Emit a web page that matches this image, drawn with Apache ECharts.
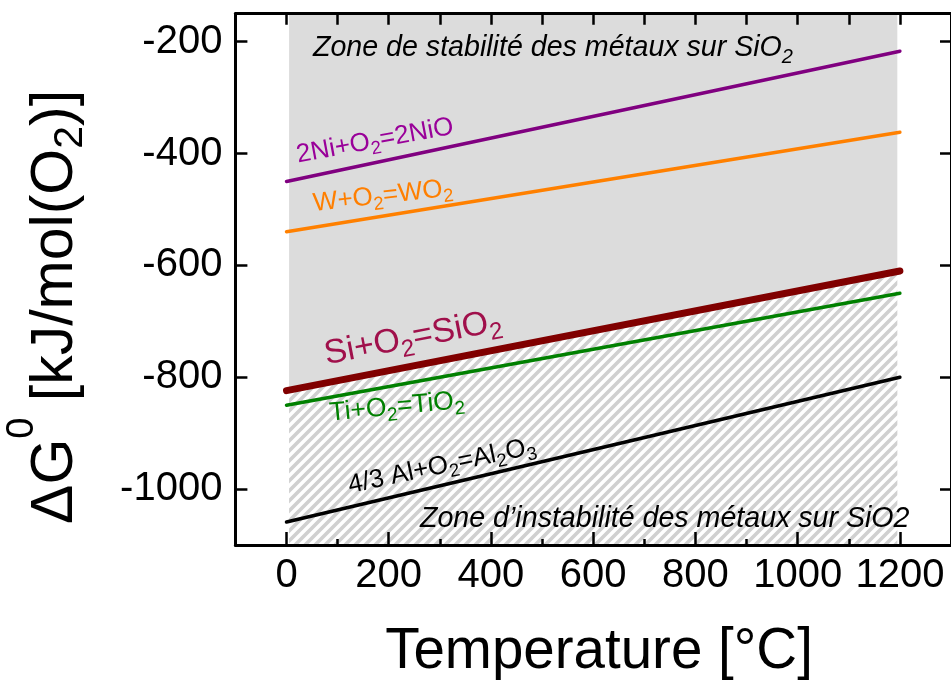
<!DOCTYPE html>
<html>
<head>
<meta charset="utf-8">
<script src="https://cdn.jsdelivr.net/npm/echarts@6/dist/echarts.min.js"></script>
<style>
html,body{margin:0;padding:0;background:#fff;}
#chart{width:951px;height:682px;}
</style>
</head>
<body>
<div id="chart"></div>
<script>
// ---- data ----
const temps = [0, 1200];
const niValues = [-450, -217];
const wValues = [-540, -362];
const siValues = [-824, -610];
const tiValues = [-850, -650];
const alValues = [-1059, -800];
const xMajorTicks = [0, 200, 400, 600, 800, 1000, 1200];
const xMinorTicks = [100, 300, 500, 700, 900, 1100];
const yTicks = [-1000, -800, -600, -400, -200];
const zoneRange = [5, 1195];

const FONT = "'Liberation Sans', Arial, Helvetica, sans-serif";
const chart = echarts.init(document.getElementById('chart'), null, {renderer: 'canvas'});

// hatch pattern
const pat = document.createElement('canvas');
pat.width = 10; pat.height = 10;
(function () {
  const c = pat.getContext('2d');
  c.fillStyle = '#ffffff'; c.fillRect(0, 0, 10, 10);
  c.strokeStyle = '#d0d0d0'; c.lineWidth = 3.6;
  c.beginPath();
  c.moveTo(-5, 5); c.lineTo(5, -5);
  c.moveTo(0, 10); c.lineTo(10, 0);
  c.moveTo(5, 15); c.lineTo(15, 5);
  c.stroke();
})();

function pairs(vals) { return temps.map((t, i) => [t, vals[i]]); }

function siAt(x) {
  const x0 = temps[0], x1 = temps[temps.length - 1];
  const y0 = siValues[0], y1 = siValues[siValues.length - 1];
  return y0 + (y1 - y0) * (x - x0) / (x1 - x0);
}

function lineSeries(name, vals, color, width) {
  return {
    name: name, type: 'line', data: pairs(vals), showSymbol: false, symbol: 'none',
    lineStyle: {color: color, width: width, cap: 'round'}, z: 5, silent: true
  };
}

const Y_MIN = -1100, Y_MAX = -150;

// rich-text helper: main font F (centred in line), subscript font Fb lowered by d
function richEq(F, Fb, color, italic) {
  const L = Math.round(F * 1.6);
  const d = 0.2 * F;
  const Hb = 2 * (L / 2 + 0.3465 * (F - Fb) + d);
  const st = italic ? 'italic' : 'normal';
  return {
    t: {fontSize: F, lineHeight: L, verticalAlign: 'middle', fill: color, fontFamily: FONT, fontStyle: st},
    s: {fontSize: Fb, lineHeight: L, height: Hb, verticalAlign: 'top', fill: color, fontFamily: FONT, fontStyle: st}
  };
}

function label(text, x, y, deg, F, Fb, color, align, italic) {
  return {
    type: 'text', x: x, y: y, rotation: deg * Math.PI / 180, z: 20, silent: true,
    style: {
      text: text, rich: richEq(F, Fb, color, italic), fill: color,
      fontSize: F, fontFamily: FONT, align: align || 'center', verticalAlign: 'middle'
    }
  };
}

const plainNum = function (v) { return String(v); };
const axisLineStyle = {show: true, onZero: false, lineStyle: {color: '#000', width: 3}};

// y-title rich layout
const YT = {F: 59, Fp: 38, Fb: 41, L: 124};
const ytHp = 2 * (YT.L / 2 - 0.3695 * YT.F - 0.3465 * YT.Fp + 1);
const ytHb = 2 * (YT.L / 2 + 0.3465 * (YT.F - YT.Fb) + 8);

const option = {
  animation: false,
  backgroundColor: '#ffffff',
  grid: {left: 235.4, top: 13.7, width: 717.6, height: 531.3, containLabel: false},
  xAxis: [
    {
      type: 'value', min: -100, max: 1300, position: 'bottom', z: 10,
      axisLine: axisLineStyle,
      axisTick: {show: true, inside: true, length: 13, lineStyle: {color: '#000', width: 2.5}, customValues: xMajorTicks},
      axisLabel: {show: true, customValues: xMajorTicks, formatter: plainNum, fontSize: 40, color: '#000', fontFamily: FONT, margin: 11},
      splitLine: {show: false}
    },
    {
      type: 'value', min: -100, max: 1300, position: 'bottom', z: 10,
      axisLine: {show: false, onZero: false},
      axisTick: {show: true, inside: true, length: 6, lineStyle: {color: '#000', width: 2.5}, customValues: xMinorTicks},
      axisLabel: {show: false},
      splitLine: {show: false}
    },
    {
      type: 'value', min: -100, max: 1300, interval: 100, position: 'top', z: 10,
      axisLine: axisLineStyle,
      axisTick: {show: true, inside: true, length: 11, lineStyle: {color: '#000', width: 2.5}},
      axisLabel: {show: false},
      splitLine: {show: false}
    }
  ],
  yAxis: [
    {
      type: 'value', min: Y_MIN, max: Y_MAX, position: 'left', z: 10,
      axisLine: axisLineStyle,
      axisTick: {show: true, inside: true, length: 12, lineStyle: {color: '#000', width: 2.5}, customValues: yTicks},
      axisLabel: {show: true, customValues: yTicks, formatter: plainNum, fontSize: 40, color: '#000', fontFamily: FONT, margin: 13},
      splitLine: {show: false}
    },
    {
      type: 'value', min: Y_MIN, max: Y_MAX, position: 'right', z: 10,
      axisLine: axisLineStyle,
      axisTick: {show: true, inside: true, length: 11, lineStyle: {color: '#000', width: 2.5}, customValues: yTicks},
      axisLabel: {show: false},
      splitLine: {show: false}
    }
  ],
  series: [
    {
      type: 'custom', name: 'zones', z: 1, silent: true, clip: false,
      data: [[zoneRange[0], zoneRange[1]]],
      renderItem: function (params, api) {
        const xs = api.value(0), xe = api.value(1);
        const grey = [api.coord([xs, Y_MAX]), api.coord([xe, Y_MAX]), api.coord([xe, siAt(xe)]), api.coord([xs, siAt(xs)])];
        const hatch = [api.coord([xs, siAt(xs)]), api.coord([xe, siAt(xe)]), api.coord([xe, Y_MIN]), api.coord([xs, Y_MIN])];
        return {
          type: 'group',
          children: [
            {type: 'polygon', shape: {points: grey}, style: {fill: '#dcdcdc'}},
            {type: 'polygon', shape: {points: hatch}, style: {fill: {image: pat, repeat: 'repeat'}}}
          ]
        };
      }
    },
    lineSeries('2Ni+O2=2NiO', niValues, '#800080', 3.5),
    lineSeries('W+O2=WO2', wValues, '#ff8000', 3.5),
    lineSeries('Si+O2=SiO2', siValues, '#800000', 7),
    lineSeries('Ti+O2=TiO2', tiValues, '#008000', 3.5),
    lineSeries('4/3 Al+O2=Al2O3', alValues, '#000000', 3.5)
  ],
  graphic: [
    label('{t|Zone de stabilité des métaux sur SiO}{s|2}', 313, 48.5, 0, 28.6, 20, '#000', 'left', true),
    label('{t|Zone d\u2019instabilité des métaux sur SiO2}', 420, 519, 0, 28.6, 20, '#000', 'left', true),
    label('{t|2Ni+O}{s|2}{t|=2NiO}', 375, 141, 10.5, 26, 18.5, '#990099'),
    label('{t|W+O}{s|2}{t|=WO}{s|2}', 383, 196, 6.5, 26, 18.5, '#ff7f00'),
    label('{t|Si+O}{s|2}{t|=SiO}{s|2}', 413, 338, 11, 34, 24, '#a0104b'),
    label('{t|Ti+O}{s|2}{t|=TiO}{s|2}', 397, 407, 5.5, 26.5, 19, '#008000'),
    label('{t|4/3 Al+O}{s|2}{t|=Al}{s|2}{t|O}{s|3}', 442, 466, 12, 26, 18.5, '#000'),
    {
      type: 'text', x: 599, y: 652, z: 20, silent: true,
      style: {text: 'Temperature [°C]', fontSize: 56.5, fontFamily: FONT, fill: '#000', align: 'center', verticalAlign: 'middle'}
    },
    {
      type: 'text', x: 56, y: 307, rotation: Math.PI / 2, z: 20, silent: true,
      style: {
        text: '{t|\u0394G}{p|0}{t| [kJ/mol(O}{b|2}{t|)]}',
        align: 'center', verticalAlign: 'middle', fill: '#000', fontSize: YT.F, fontFamily: FONT,
        rich: {
          t: {fontSize: YT.F, lineHeight: YT.L, verticalAlign: 'middle', fill: '#000', fontFamily: FONT},
          p: {fontSize: YT.Fp, lineHeight: YT.L, height: ytHp, verticalAlign: 'top', fill: '#000', fontFamily: FONT},
          b: {fontSize: YT.Fb, lineHeight: YT.L, height: ytHb, verticalAlign: 'top', fill: '#000', fontFamily: FONT}
        }
      }
    }
  ]
};
chart.setOption(option);
</script>
</body>
</html>
